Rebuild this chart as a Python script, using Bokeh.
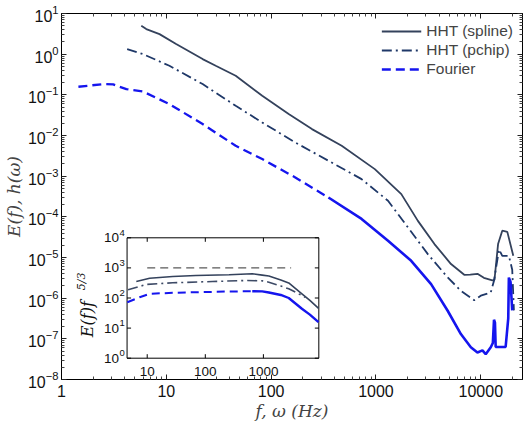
import math

from bokeh.embed import file_html
from bokeh.models import (CustomJSTickFormatter, FixedTicker, Label, Legend,
                          LegendItem, LogAxis, LogScale, NumeralTickFormatter,
                          Range1d)
from bokeh.plotting import figure
from bokeh.resources import INLINE

# ---------------------------------------------------------------- spectra
spline_f = [5.77, 6.44, 8.61, 12.4, 22.2, 29.6, 45.9, 82.2, 147, 245, 471,
            975, 1746, 2512, 3614, 5200, 6950, 7940, 9290, 10700, 12900,
            13500, 14620, 16030, 17910, 20420]
spline_E = [4.99, 4.13, 3.11, 1.77, 0.757, 0.518, 0.294, 0.0946, 0.0336,
            0.01436, 5.58e-3, 1.49e-3, 3.62e-4, 7.96e-5, 2.14e-5, 6.9e-6,
            3.76e-6, 3.8e-6, 3.98e-6, 3.16e-6, 2.75e-6, 2.8e-6, 2.14e-5,
            4.57e-5, 4.27e-5, 1.10e-5]

pchip_f = [4.23, 5.98, 10.7, 22.2, 45.9, 82.2, 170, 352, 729, 1303, 1875,
           3126, 4831, 6457, 8650, 10000, 12450, 13370, 14930, 16030, 18530,
           19950, 20700]
pchip_E = [1.33, 1.005, 0.518, 0.184, 0.0538, 0.0209, 6.73e-3, 2.39e-3,
           8.47e-4, 2.48e-4, 7.1e-5, 1.21e-5, 3.24e-6, 1.52e-6, 8.9e-7,
           1.15e-6, 1.38e-6, 2.69e-6, 1.58e-5, 1.10e-5, 1.10e-5, 5e-6, 5e-7]

fourier_f = [1.45, 2.50, 3.11, 4.16, 5.98, 10.7, 22.2, 45.9, 82.2, 170, 352,
             729, 1303, 2168, 3357, 4831, 6457, 8035, 9290, 10370, 11140,
             12450, 13030, 13370, 13650, 13870, 15490, 17260, 18280, 18530,
             19230, 19950]
fourier_E = [0.158, 0.184, 0.18, 0.138, 0.121, 0.0592, 0.0191, 5.58e-3,
             2.63e-3, 9.29e-4, 2.99e-4, 8.9e-5, 2.58e-5, 8.3e-6, 2.22e-6,
             4.9e-7, 1.31e-7, 6.2e-8, 4.6e-8, 5.2e-8, 4.2e-8, 6.2e-8, 7.9e-8,
             2.95e-7, 2.5e-7, 6.3e-8, 6.3e-8, 6.3e-8, 3.2e-7, 3.2e-6, 2.5e-6,
             5e-7]

# ------------------------------------------------- compensated spectra (inset)
ins_spline_f = [6.49, 11.0, 27.5, 69, 257, 643, 955, 1242, 1995, 2729, 4603,
                6310, 8913]
ins_spline_v = [353, 455, 518, 560, 590, 637, 575, 537, 398, 316, 138, 83, 45]

ins_pchip_f = [4.68, 9.6, 27.5, 133, 494, 955, 1242, 1995, 2729, 3548, 5248]
ins_pchip_v = [187, 281, 320, 353, 381, 372, 335, 251, 202, 158, 105]

ins_fourier_f = [4.55, 7.4, 11.0, 27.5, 69, 257, 643, 955, 1242, 1995, 2729,
                 4603, 6310, 8890]
ins_fourier_v = [72, 106, 138, 149, 156, 164, 168, 166, 152, 126, 100, 44,
                 28, 15.7]

ref_f = [10, 3000]
ref_v = [1000, 1000]

x_ticks = [1, 10, 100, 1000, 10000]
y_ticks = [1e-8, 1e-7, 1e-6, 1e-5, 1e-4, 1e-3, 1e-2, 1e-1, 1, 10]
ins_x_ticks = [10, 100, 1000]
ins_x_labels = ["10", "100", "1000"]
ins_y_ticks = [1, 10, 100, 1000, 10000]
ins_y_exps = ["0", "1", "2", "3", "4"]

# ---------------------------------------------------------------- styling
C_SPLINE = "#34425c"
C_PCHIP = "#1f3868"
C_FOURIER = "#1515ee"
C_REF = "#5a5a5a"
SANS = "Liberation Sans"
SERIF = "DejaVu Serif"

W, H = 529, 423
LEFT, RIGHT, TOP, BOTTOM = 58, 7, 13, 44
FW, FH = W - LEFT - RIGHT, H - TOP - BOTTOM

XMIN, XMAX = 1, 25000
YMIN, YMAX = 1e-8, 10

p = figure(width=W, height=H, x_axis_type="log", y_axis_type="log",
           x_range=Range1d(XMIN, XMAX), y_range=Range1d(YMIN, YMAX),
           output_backend="svg", toolbar_location=None,
           min_border_left=LEFT, min_border_right=RIGHT,
           min_border_top=TOP, min_border_bottom=BOTTOM)
p.xgrid.visible = False
p.ygrid.visible = False
p.outline_line_color = "black"
p.outline_line_width = 1
p.background_fill_color = "white"
p.border_fill_color = "white"

y_minor = [m * 10.0 ** k for k in range(-8, 1) for m in range(2, 10)]
x_minor = [m * 10.0 ** k for k in range(0, 5) for m in range(2, 10)]
x_minor = [v for v in x_minor if v < XMAX]


def style_axis(ax):
    ax.axis_line_color = "black"
    ax.major_tick_in = 5
    ax.major_tick_out = 0
    ax.minor_tick_in = 3
    ax.minor_tick_out = 0
    ax.major_tick_line_color = "#222222"
    ax.minor_tick_line_color = "#444444"
    ax.major_label_text_font = SANS
    ax.major_label_text_font_size = "16px"
    ax.major_label_text_color = "#111111"


xa = p.xaxis[0]
xa.ticker = FixedTicker(ticks=x_ticks, minor_ticks=x_minor)
xa.formatter = NumeralTickFormatter(format="0")
xa.major_label_standoff = 5
xa.axis_label = "f, ω (Hz)"
xa.axis_label_text_font = SERIF
xa.axis_label_text_font_style = "italic"
xa.axis_label_text_font_size = "17px"
xa.axis_label_standoff = 1
style_axis(xa)

ya = p.yaxis[0]
ya.ticker = FixedTicker(ticks=y_ticks, minor_ticks=y_minor)
ya.major_label_standoff = 3
ya.axis_label = "E(f), h(ω)"
ya.axis_label_text_font = SERIF
ya.axis_label_text_font_style = "italic"
ya.axis_label_text_font_size = "17px"
ya.axis_label_standoff = 1
style_axis(ya)

blank = CustomJSTickFormatter(code="return ''")
top_ax = LogAxis(ticker=FixedTicker(ticks=x_ticks, minor_ticks=x_minor),
                 formatter=blank, major_label_standoff=0)
right_ax = LogAxis(ticker=FixedTicker(ticks=y_ticks, minor_ticks=y_minor),
                   formatter=blank, major_label_standoff=0)
style_axis(top_ax)
style_axis(right_ax)
top_ax.major_label_text_font_size = "0px"
right_ax.major_label_text_font_size = "0px"
p.add_layout(top_ax, "above")
p.add_layout(right_ax, "right")

# ---------------------------------------------------------------- main curves
r_spline = p.line(spline_f, spline_E, line_color=C_SPLINE, line_width=1.8)
r_pchip = p.line(pchip_f, pchip_E, line_color=C_PCHIP, line_width=1.8,
                 line_dash="10 4 2 4")

# the Fourier spectrum is sampled densely at high frequency, where the dashes
# close up into a solid trace
split = next(i for i, f in enumerate(fourier_f) if f >= 352)
r_fourier = p.line(fourier_f[:split + 1], fourier_E[:split + 1],
                   line_color=C_FOURIER, line_width=2.3, line_dash="9 5")
p.line(fourier_f[split:], fourier_E[split:], line_color=C_FOURIER,
       line_width=2.6)

legend = Legend(items=[LegendItem(label="HHT (spline)", renderers=[r_spline]),
                       LegendItem(label="HHT (pchip)", renderers=[r_pchip]),
                       LegendItem(label="Fourier", renderers=[r_fourier])],
                location="top_right", glyph_width=40, glyph_height=16,
                label_text_font=SANS, label_text_font_size="15.5px",
                label_height=18, label_standoff=5, spacing=1, padding=4,
                margin=5, background_fill_alpha=0, border_line_alpha=0)
p.add_layout(legend)

# ---------------------------------------------------------------- inset
# inset box in pixels (relative to the canvas) and its data limits
IX0, IX1, IY0, IY1 = 124, 317, 237.3, 357.7
IXMIN, IXMAX, IYMIN, IYMAX = 4.5, 9000, 1, 1e4

fx0 = IX0 - LEFT
fx1 = IX1 - LEFT
fy0 = (TOP + FH) - IY1
fy1 = (TOP + FH) - IY0
px_dec_x = (fx1 - fx0) / (math.log10(IXMAX) - math.log10(IXMIN))
px_dec_y = (fy1 - fy0) / (math.log10(IYMAX) - math.log10(IYMIN))
ix_start = 10 ** (math.log10(IXMIN) - fx0 / px_dec_x)
ix_end = 10 ** (math.log10(IXMAX) + (FW - fx1) / px_dec_x)
iy_start = 10 ** (math.log10(IYMIN) - fy0 / px_dec_y)
iy_end = 10 ** (math.log10(IYMAX) + (FH - fy1) / px_dec_y)

p.extra_x_ranges = {"ins": Range1d(ix_start, ix_end)}
p.extra_y_ranges = {"ins": Range1d(iy_start, iy_end)}
p.extra_x_scales = {"ins": LogScale()}
p.extra_y_scales = {"ins": LogScale()}
kw = dict(x_range_name="ins", y_range_name="ins")

p.quad(left=[IXMIN], right=[IXMAX], bottom=[IYMIN], top=[IYMAX],
       fill_color="white", line_color="black", line_width=1, **kw)

p.line(ref_f, ref_v, line_color=C_REF, line_width=1.3, line_dash="8 5", **kw)
p.line(ins_spline_f, ins_spline_v, line_color=C_SPLINE, line_width=1.6, **kw)
p.line(ins_pchip_f, ins_pchip_v, line_color="#3d4a66", line_width=1.6,
       line_dash="10 4 2 4", **kw)
isplit = next(i for i, f in enumerate(ins_fourier_f) if f >= 500)
p.line(ins_fourier_f[:isplit + 1], ins_fourier_v[:isplit + 1],
       line_color=C_FOURIER, line_width=2.0, line_dash="8 5", **kw)
p.line(ins_fourier_f[isplit:], ins_fourier_v[isplit:], line_color=C_FOURIER,
       line_width=2.4, **kw)

# inset ticks (inward) and tick labels
n_x = len(ins_x_ticks)
n_y = len(ins_y_ticks)
p.ray(ins_x_ticks, [IYMIN] * n_x, length=4, length_units="screen",
      angle=math.pi / 2, line_color="black", line_width=1, **kw)
p.ray(ins_x_ticks, [IYMAX] * n_x, length=4, length_units="screen",
      angle=-math.pi / 2, line_color="black", line_width=1, **kw)
p.ray([IXMIN] * n_y, ins_y_ticks, length=4, length_units="screen",
      angle=0, line_color="black", line_width=1, **kw)
p.ray([IXMAX] * n_y, ins_y_ticks, length=4, length_units="screen",
      angle=math.pi, line_color="black", line_width=1, **kw)

for f, lab in zip(ins_x_ticks, ins_x_labels):
    p.add_layout(Label(x=f, y=IYMIN, text=lab, y_offset=-18,
                       text_align="center", text_baseline="bottom",
                       text_font=SANS, text_font_size="13.5px",
                       text_color="#111111", **kw))
for v, e in zip(ins_y_ticks, ins_y_exps):
    p.add_layout(Label(x=IXMIN, y=v, text="10", x_offset=-8,
                       text_align="right", text_baseline="middle",
                       text_font=SANS, text_font_size="13.5px",
                       text_color="#111111", **kw))
    p.add_layout(Label(x=IXMIN, y=v, text=e, x_offset=-7.5, y_offset=5,
                       text_align="left", text_baseline="middle",
                       text_font=SANS, text_font_size="9.5px",
                       text_color="#111111", **kw))

# inset y label: E(f) f^(5/3), written bottom to top
p.add_layout(Label(x=IXMIN, y=5.0, text="E(f)f", x_offset=-40,
                   angle=math.pi / 2, text_align="left",
                   text_baseline="middle", text_font=SERIF,
                   text_font_style="italic", text_font_size="16px",
                   text_color="#111111", **kw))
p.add_layout(Label(x=IXMIN, y=5.0, text="5/3", x_offset=-46, y_offset=47,
                   angle=math.pi / 2, text_align="left",
                   text_baseline="middle", text_font=SERIF,
                   text_font_style="italic", text_font_size="11px",
                   text_color="#111111", **kw))

open("out.html", "w").write(file_html(p, INLINE))
